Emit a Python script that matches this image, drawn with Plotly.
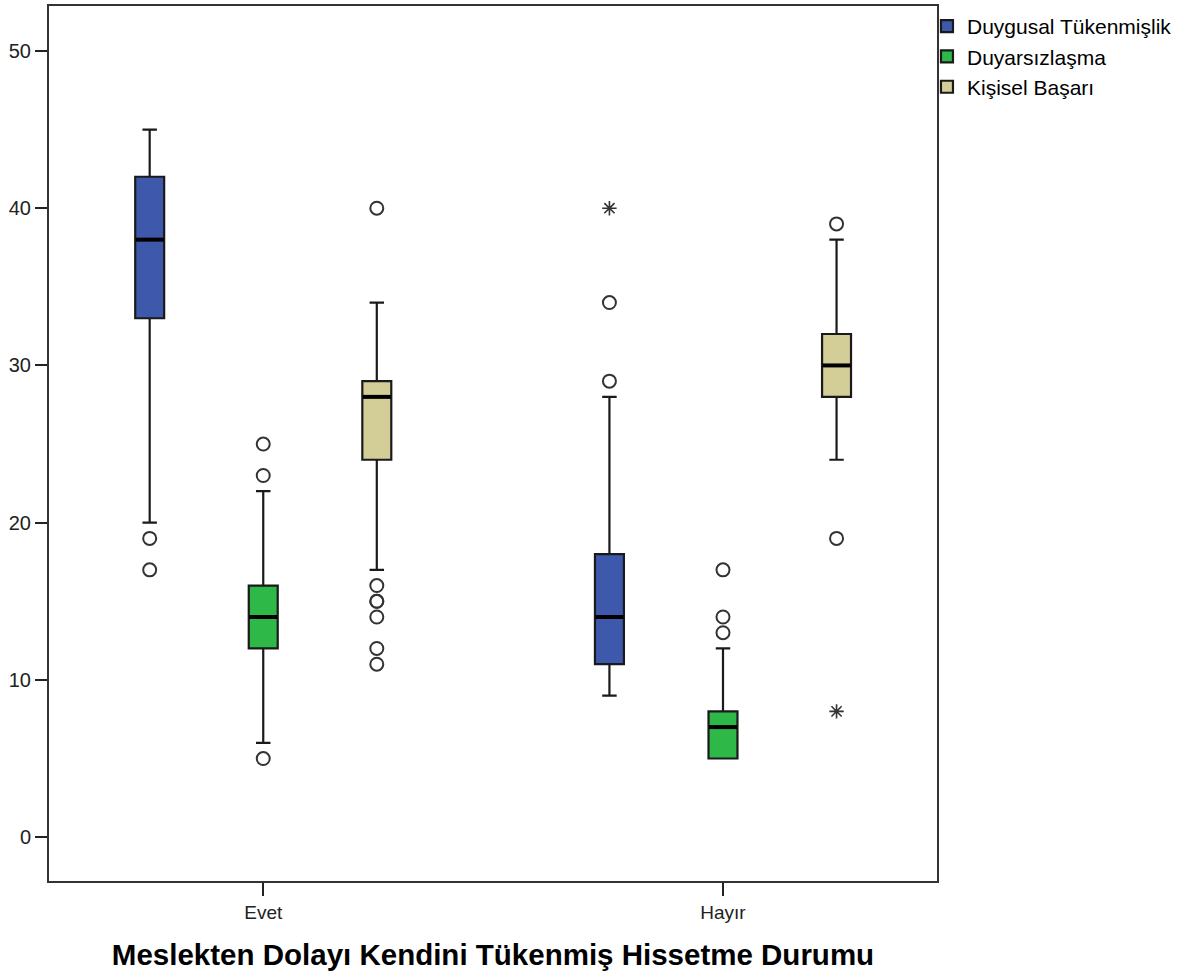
import plotly.graph_objects as go

# Groups on the x axis
groups = ["Evet", "Hayır"]
group_pos = [0, 1]

series = ["Duygusal Tükenmişlik", "Duyarsızlaşma", "Kişisel Başarı"]
colors = ["#3E58AC", "#2EB848", "#D3CE97"]

# Five-number summaries per series: [Evet, Hayır]
q1 = {
    "Duygusal Tükenmişlik": [33, 11],
    "Duyarsızlaşma": [12, 5],
    "Kişisel Başarı": [24, 28],
}
median = {
    "Duygusal Tükenmişlik": [38, 14],
    "Duyarsızlaşma": [14, 7],
    "Kişisel Başarı": [28, 30],
}
q3 = {
    "Duygusal Tükenmişlik": [42, 18],
    "Duyarsızlaşma": [16, 8],
    "Kişisel Başarı": [29, 32],
}
lower_whisker = {
    "Duygusal Tükenmişlik": [20, 9],
    "Duyarsızlaşma": [6, 5],
    "Kişisel Başarı": [17, 24],
}
upper_whisker = {
    "Duygusal Tükenmişlik": [45, 28],
    "Duyarsızlaşma": [22, 12],
    "Kişisel Başarı": [34, 38],
}

# Outliers (circles) and extremes (stars) per series: [Evet list, Hayır list]
outliers = {
    "Duygusal Tükenmişlik": [[19, 17], [34, 29]],
    "Duyarsızlaşma": [[25, 23, 5], [17, 14, 13]],
    "Kişisel Başarı": [[40, 16, 15, 15, 14, 12, 11], [39, 19]],
}
extremes = {
    "Duygusal Tükenmişlik": [[], [40]],
    "Duyarsızlaşma": [[], []],
    "Kişisel Başarı": [[], [8]],
}

y_ticks = [0, 10, 20, 30, 40, 50]

BOXGAP = 0.259
BOXGROUPGAP = 0.745
FONT = "Liberation Sans, Arial, sans-serif"

fig = go.Figure()

n = len(series)
slot = (1 - BOXGAP) / n  # distance between neighbouring boxes inside a group

for k, name in enumerate(series):
    fig.add_trace(go.Box(
        name=name,
        x=group_pos,
        q1=q1[name],
        median=median[name],
        q3=q3[name],
        lowerfence=lower_whisker[name],
        upperfence=upper_whisker[name],
        fillcolor=colors[k],
        line=dict(color="#1a1a1a", width=2.2),
        whiskerwidth=0.5,
        boxpoints=False,
        offsetgroup=name,
        hoverinfo="skip",
    ))

for k, name in enumerate(series):
    off = -(1 - BOXGAP) / 2 + (k + 0.5) * slot
    # thicker median bar on top of each box
    fig.add_trace(go.Scatter(
        x=[p + off for p in group_pos],
        y=median[name],
        mode="markers",
        marker=dict(symbol="line-ew", size=20, line=dict(color="#000000", width=4)),
        showlegend=False, hoverinfo="skip",
    ))
    ox, oy, ex, ey = [], [], [], []
    for gi, p in enumerate(group_pos):
        for v in outliers[name][gi]:
            ox.append(p + off)
            oy.append(v)
        for v in extremes[name][gi]:
            ex.append(p + off)
            ey.append(v)
    fig.add_trace(go.Scatter(
        x=ox, y=oy, mode="markers",
        marker=dict(symbol="circle-open", size=13, color="#333333", line=dict(width=2)),
        showlegend=False, hoverinfo="skip",
    ))
    if ex:
        fig.add_trace(go.Scatter(
            x=ex, y=ey, mode="markers",
            marker=dict(symbol="asterisk-open", size=12, color="#333333", line=dict(width=1.6)),
            showlegend=False, hoverinfo="skip",
        ))

fig.update_layout(
    width=1200, height=979,
    margin=dict(l=49, r=263, t=4, b=98),
    paper_bgcolor="white", plot_bgcolor="white",
    boxmode="group", boxgap=BOXGAP, boxgroupgap=BOXGROUPGAP,
    font=dict(family=FONT, color="#222222"),
    showlegend=True,
    legend=dict(
        x=0.9887, xanchor="left", y=1.0, yanchor="top",
        font=dict(family=FONT, size=21, color="#000000"),
        bgcolor="rgba(0,0,0,0)", tracegroupgap=0,
        itemwidth=30,
    ),
    xaxis=dict(
        range=[-0.466, 1.4655],
        tickvals=group_pos, ticktext=groups,
        ticks="outside", ticklen=13, tickwidth=2, tickcolor="#222222",
        tickfont=dict(size=19),
        showline=True, linecolor="#333333", linewidth=2, mirror=True,
        showgrid=False, zeroline=False,
        title=dict(text="<b>Meslekten Dolayı Kendini Tükenmiş Hissetme Durumu</b>",
                   font=dict(size=29.5, color="#000000"), standoff=23),
    ),
    yaxis=dict(
        range=[-2.79, 52.86],
        tickvals=y_ticks,
        ticks="outside", ticklen=12, tickwidth=2, tickcolor="#222222",
        tickfont=dict(size=20),
        showline=True, linecolor="#333333", linewidth=2, mirror=True,
        showgrid=False, zeroline=False,
    ),
)

fig.write_html("out.html")
